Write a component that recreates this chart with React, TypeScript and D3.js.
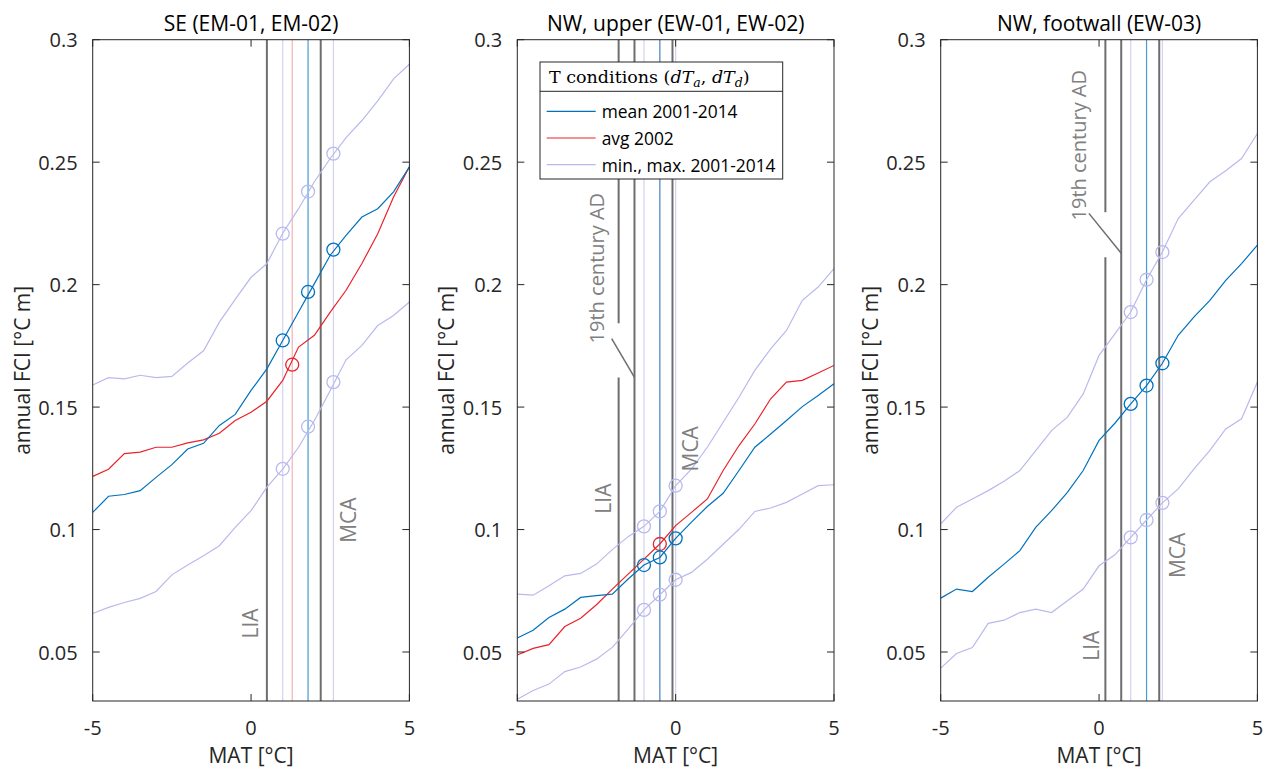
import React from 'react';
import * as d3 from 'd3';

// ---------- data ----------
const MAT = [-5, -4.5, -4, -3.5, -3, -2.5, -2, -1.5, -1, -0.5, 0, 0.5, 1, 1.5, 2, 2.5, 3, 3.5, 4, 4.5, 5];
const X_TICKS = [-5, 0, 5];
const Y_TICKS = [0.05, 0.1, 0.15, 0.2, 0.25, 0.3];
const Y_DOMAIN = [0.03, 0.3];
const X_DOMAIN = [-5, 5];

const TITLES = ['SE (EM-01, EM-02)', 'NW, upper (EW-01, EW-02)', 'NW, footwall (EW-03)'];

// SE
const SE_MEAN = [0.107, 0.1136, 0.1143, 0.1159, 0.1213, 0.1265, 0.1329, 0.1352, 0.1425, 0.147, 0.1568, 0.1656, 0.1772, 0.1888, 0.2004, 0.212, 0.2201, 0.2276, 0.231, 0.2379, 0.2481];
const SE_AVG2002 = [0.1217, 0.1246, 0.131, 0.1316, 0.1336, 0.1336, 0.1354, 0.1366, 0.1393, 0.1445, 0.1479, 0.1524, 0.1609, 0.1745, 0.1793, 0.1888, 0.1977, 0.2086, 0.2208, 0.2358, 0.2481];
const SE_MAX = [0.159, 0.162, 0.1615, 0.163, 0.162, 0.1625, 0.168, 0.173, 0.1847, 0.194, 0.203, 0.2086, 0.221, 0.231, 0.242, 0.2515, 0.26, 0.267, 0.275, 0.284, 0.29];
const SE_MIN = [0.0657, 0.0682, 0.0702, 0.0719, 0.0747, 0.0815, 0.0855, 0.0893, 0.0934, 0.1009, 0.1077, 0.1173, 0.1247, 0.1336, 0.1445, 0.1568, 0.1693, 0.1752, 0.1833, 0.1874, 0.1929];
const SE_MARK_X = [1.0, 1.8, 2.6];
const SE_MARK_MEAN = [0.1772, 0.197, 0.2143];
const SE_MARK_MAX = [0.2208, 0.238, 0.2535];
const SE_MARK_MIN = [0.1248, 0.142, 0.1602];
const SE_MARK_AVG_X = [1.3];
const SE_MARK_AVG = [0.1673];

// NW upper
const NWU_MEAN = [0.0557, 0.0589, 0.0641, 0.0675, 0.0723, 0.073, 0.0736, 0.0798, 0.0855, 0.0886, 0.0964, 0.103, 0.1094, 0.1148, 0.1241, 0.1336, 0.139, 0.1445, 0.1502, 0.1547, 0.1595];
const NWU_AVG2002 = [0.0488, 0.0515, 0.053, 0.0604, 0.0638, 0.0693, 0.0757, 0.0818, 0.0879, 0.0941, 0.1016, 0.107, 0.1125, 0.1241, 0.1343, 0.1431, 0.1534, 0.1602, 0.1609, 0.1639, 0.167];
const NWU_MAX = [0.0736, 0.0732, 0.0771, 0.0811, 0.0821, 0.0859, 0.0918, 0.0971, 0.1013, 0.1074, 0.1179, 0.1247, 0.1336, 0.1438, 0.154, 0.165, 0.1738, 0.1813, 0.1936, 0.199, 0.2065];
const NWU_MIN = [0.0307, 0.0343, 0.0369, 0.042, 0.0439, 0.0471, 0.0519, 0.0593, 0.0672, 0.0734, 0.0795, 0.0825, 0.0879, 0.094, 0.1001, 0.1074, 0.1088, 0.1111, 0.1145, 0.1179, 0.1183];
const NWU_MARK_X = [-1.0, -0.5, 0.0];
const NWU_MARK_MEAN = [0.0855, 0.0886, 0.0964];
const NWU_MARK_MAX = [0.1013, 0.1074, 0.1179];
const NWU_MARK_MIN = [0.0672, 0.0734, 0.0795];
const NWU_MARK_AVG_X = [-0.5];
const NWU_MARK_AVG = [0.0941];

// NW footwall
const NWF_MEAN = [0.072, 0.0757, 0.0747, 0.0805, 0.0859, 0.0914, 0.1009, 0.1077, 0.1152, 0.1241, 0.1364, 0.1434, 0.1513, 0.1588, 0.1679, 0.1793, 0.1868, 0.1936, 0.2017, 0.2086, 0.2161];
const NWF_MAX = [0.1023, 0.1091, 0.1125, 0.1159, 0.1197, 0.1241, 0.1322, 0.1404, 0.1459, 0.1554, 0.1711, 0.1799, 0.1888, 0.202, 0.2133, 0.227, 0.2345, 0.242, 0.2465, 0.2515, 0.2617];
const NWF_MIN = [0.0434, 0.0494, 0.0518, 0.0617, 0.063, 0.0661, 0.0675, 0.0661, 0.0709, 0.0757, 0.0852, 0.0897, 0.0968, 0.1039, 0.1109, 0.1166, 0.1248, 0.1323, 0.1411, 0.1452, 0.1602];
const NWF_MARK_X = [1.0, 1.5, 2.0];
const NWF_MARK_MEAN = [0.1513, 0.1588, 0.1679];
const NWF_MARK_MAX = [0.1888, 0.202, 0.2133];
const NWF_MARK_MIN = [0.0968, 0.1039, 0.1109];

// vertical reference lines (MAT)
const SE_VLINES_DARK = [0.5, 2.2];
const SE_VLINES_MINMAX = [1.0, 2.6];
const SE_VLINES_AVG = [1.3];
const SE_VLINES_MEAN = [1.8];
const NWU_VLINES_DARK = [-1.3, -0.1];
const NWU_LIA = -1.8;
const NWU_LIA_GAP = [0.1621, 0.1842];
const NWU_VLINES_MINMAX = [-1.0, 0.0];
const NWU_VLINES_AVG = [-0.5];
const NWU_VLINES_MEAN = [-0.5];
const NWF_VLINES_DARK = [0.7, 1.9];
const NWF_LIA = 0.2;
const NWF_LIA_GAP = [0.2112, 0.2296];
const NWF_VLINES_MINMAX = [1.0, 2.0];
const NWF_VLINES_MEAN = [1.5];

const LEGEND_LABELS = ['mean 2001-2014', 'avg 2002', 'min., max. 2001-2014'];

// ---------- style ----------
const C_MEAN = '#0072BD';
const C_AVG = '#E8232A';
const C_MM = '#B9B9EE';
const CV_MEAN = '#4A9AD4';
const CV_AVG = '#F6B2B2';
const CV_MM = '#D2D2F4';
const C_DARK = '#6E6E6E';
const C_AXIS = '#262626';
const C_LABEL = '#808080';
const FONT = "'Open Sans', 'Noto Sans', sans-serif";

const W = 1263;
const H = 769;
const PANEL_LEFT = [92.7, 517.3, 940.7];
const PW = 316.7;
const TOP = 39.7;
const BOTTOM = 701;

type Series = { y: number[]; color: string };
type Marks = { x: number[]; y: number[]; color: string };
type Ann = { text: string; x: number; y: number };
type PanelSpec = {
  title: string;
  series: Series[];
  marks: Marks[];
  vMinMax: number[];
  vAvg: number[];
  vMean: number[];
  vDark: number[];
  lia?: { x: number; gap: number[]; leader: { x: number[]; y: number[] }; text: Ann };
  labels: Ann[];
  legend?: boolean;
};

const PANELS: PanelSpec[] = [
  {
    title: TITLES[0],
    series: [
      { y: SE_MAX, color: C_MM },
      { y: SE_MIN, color: C_MM },
      { y: SE_AVG2002, color: C_AVG },
      { y: SE_MEAN, color: C_MEAN },
    ],
    marks: [
      { x: SE_MARK_X, y: SE_MARK_MAX, color: C_MM },
      { x: SE_MARK_X, y: SE_MARK_MIN, color: C_MM },
      { x: SE_MARK_AVG_X, y: SE_MARK_AVG, color: C_AVG },
      { x: SE_MARK_X, y: SE_MARK_MEAN, color: C_MEAN },
    ],
    vMinMax: SE_VLINES_MINMAX,
    vAvg: SE_VLINES_AVG,
    vMean: SE_VLINES_MEAN,
    vDark: SE_VLINES_DARK,
    labels: [
      { text: 'LIA', x: -0.03, y: 0.0555 },
      { text: 'MCA', x: 3.07, y: 0.0946 },
    ],
  },
  {
    title: TITLES[1],
    series: [
      { y: NWU_MAX, color: C_MM },
      { y: NWU_MIN, color: C_MM },
      { y: NWU_AVG2002, color: C_AVG },
      { y: NWU_MEAN, color: C_MEAN },
    ],
    marks: [
      { x: NWU_MARK_X, y: NWU_MARK_MAX, color: C_MM },
      { x: NWU_MARK_X, y: NWU_MARK_MIN, color: C_MM },
      { x: NWU_MARK_AVG_X, y: NWU_MARK_AVG, color: C_AVG },
      { x: NWU_MARK_X, y: NWU_MARK_MEAN, color: C_MEAN },
    ],
    vMinMax: NWU_VLINES_MINMAX,
    vAvg: NWU_VLINES_AVG,
    vMean: NWU_VLINES_MEAN,
    vDark: NWU_VLINES_DARK,
    lia: {
      x: NWU_LIA,
      gap: NWU_LIA_GAP,
      leader: { x: [-2.02, -1.3], y: [0.178, 0.1621] },
      text: { text: '19th century AD', x: -2.49, y: 0.176 },
    },
    labels: [
      { text: 'LIA', x: -2.28, y: 0.1065 },
      { text: 'MCA', x: 0.45, y: 0.1237 },
    ],
    legend: true,
  },
  {
    title: TITLES[2],
    series: [
      { y: NWF_MAX, color: C_MM },
      { y: NWF_MIN, color: C_MM },
      { y: NWF_MEAN, color: C_MEAN },
    ],
    marks: [
      { x: NWF_MARK_X, y: NWF_MARK_MAX, color: C_MM },
      { x: NWF_MARK_X, y: NWF_MARK_MIN, color: C_MM },
      { x: NWF_MARK_X, y: NWF_MARK_MEAN, color: C_MEAN },
    ],
    vMinMax: NWF_VLINES_MINMAX,
    vAvg: [],
    vMean: NWF_VLINES_MEAN,
    vDark: NWF_VLINES_DARK,
    lia: {
      x: NWF_LIA,
      gap: NWF_LIA_GAP,
      leader: { x: [-0.32, 0.7], y: [0.2291, 0.2128] },
      text: { text: '19th century AD', x: -0.66, y: 0.2262 },
    },
    labels: [
      { text: 'LIA', x: -0.245, y: 0.0464 },
      { text: 'MCA', x: 2.47, y: 0.0802 },
    ],
  },
];

function RotLabel({ a, xs, ys, size }: { a: Ann; xs: d3.ScaleLinear<number, number>; ys: d3.ScaleLinear<number, number>; size: number }) {
  const px = xs(a.x);
  const py = ys(a.y);
  return (
    <text
      transform={`translate(${px},${py}) rotate(-90)`}
      textAnchor="start"
      dominantBaseline="central"
      fontFamily={FONT}
      fontSize={size}
      fill={C_LABEL}
    >
      {a.text}
    </text>
  );
}

function Panel({ spec, idx }: { spec: PanelSpec; idx: number }) {
  const left = PANEL_LEFT[idx];
  const xs = d3.scaleLinear().domain(X_DOMAIN).range([left, left + PW]);
  const ys = d3.scaleLinear().domain(Y_DOMAIN).range([BOTTOM, TOP]);
  const line = d3
    .line<number>()
    .x((_, i) => xs(MAT[i]))
    .y((d) => ys(d));
  const clipId = `clip${idx}`;
  const vline = (v: number, color: string, w: number, key: string) => (
    <line key={key} x1={xs(v)} x2={xs(v)} y1={TOP} y2={BOTTOM} stroke={color} strokeWidth={w} />
  );
  const tickLen = 7;
  return (
    <g>
      <defs>
        <clipPath id={clipId}>
          <rect x={left} y={TOP} width={PW} height={BOTTOM - TOP} />
        </clipPath>
      </defs>
      <rect x={left} y={TOP} width={PW} height={BOTTOM - TOP} fill="#fff" />
      <g clipPath={`url(#${clipId})`}>
        {spec.vMinMax.map((v, i) => vline(v, CV_MM, 1.2, `mm${i}`))}
        {spec.vAvg.map((v, i) => vline(v, CV_AVG, 1.2, `av${i}`))}
        {spec.vMean.map((v, i) => vline(v, CV_MEAN, 1.2, `me${i}`))}
        {spec.vDark.map((v, i) => vline(v, C_DARK, 2, `dk${i}`))}
        {spec.lia && (
          <g>
            <line x1={xs(spec.lia.x)} x2={xs(spec.lia.x)} y1={TOP} y2={ys(spec.lia.gap[1])} stroke={C_DARK} strokeWidth={2} />
            <line x1={xs(spec.lia.x)} x2={xs(spec.lia.x)} y1={ys(spec.lia.gap[0])} y2={BOTTOM} stroke={C_DARK} strokeWidth={2} />
            <line
              x1={xs(spec.lia.leader.x[0])}
              y1={ys(spec.lia.leader.y[0])}
              x2={xs(spec.lia.leader.x[1])}
              y2={ys(spec.lia.leader.y[1])}
              stroke={C_DARK}
              strokeWidth={1.5}
            />
          </g>
        )}
        {spec.series.map((s, i) => (
          <path key={`s${i}`} d={line(s.y) || ''} fill="none" stroke={s.color} strokeWidth={1.2} />
        ))}
        {spec.marks.map((m, i) =>
          m.x.map((xv, j) => (
            <circle key={`m${i}-${j}`} cx={xs(xv)} cy={ys(m.y[j])} r={6.5} fill="none" stroke={m.color} strokeWidth={1.3} />
          ))
        )}
      </g>
      {spec.lia && <RotLabel a={spec.lia.text} xs={xs} ys={ys} size={20} />}
      {spec.labels.map((a, i) => (
        <RotLabel key={`l${i}`} a={a} xs={xs} ys={ys} size={21} />
      ))}
      {/* axes box */}
      <rect x={left} y={TOP} width={PW} height={BOTTOM - TOP} fill="none" stroke={C_AXIS} strokeWidth={1} />
      {X_TICKS.map((t) => (
        <g key={`xt${t}`}>
          <line x1={xs(t)} x2={xs(t)} y1={BOTTOM} y2={BOTTOM - tickLen} stroke={C_AXIS} />
          <line x1={xs(t)} x2={xs(t)} y1={TOP} y2={TOP + tickLen} stroke={C_AXIS} />
          <text x={xs(t)} y={727} textAnchor="middle" dominantBaseline="central" fontFamily={FONT} fontSize={20} fill={C_AXIS}>
            {String(t)}
          </text>
        </g>
      ))}
      {Y_TICKS.map((t) => (
        <g key={`yt${t}`}>
          <line x1={left} x2={left + tickLen} y1={ys(t)} y2={ys(t)} stroke={C_AXIS} />
          <line x1={left + PW} x2={left + PW - tickLen} y1={ys(t)} y2={ys(t)} stroke={C_AXIS} />
          <text x={left - 15} y={ys(t)} textAnchor="end" dominantBaseline="central" fontFamily={FONT} fontSize={20} fill={C_AXIS}>
            {String(t)}
          </text>
        </g>
      ))}
      <text x={left + PW / 2} y={23} textAnchor="middle" dominantBaseline="central" fontFamily={FONT} fontSize={21} fill="#000">
        {spec.title}
      </text>
      <text x={left + PW / 2} y={755} textAnchor="middle" dominantBaseline="central" fontFamily={FONT} fontSize={21} fill={C_AXIS}>
        MAT [°C]
      </text>
      <text
        transform={`translate(${left - 71},${(TOP + BOTTOM) / 2}) rotate(-90)`}
        textAnchor="middle"
        dominantBaseline="central"
        fontFamily={FONT}
        fontSize={21}
        fill={C_AXIS}
      >
        annual FCI [°C m]
      </text>
      {spec.legend && <Legend />}
    </g>
  );
}

function Legend() {
  const x0 = 540;
  const y0 = 62;
  const w = 242.7;
  const h = 117;
  const colors = [C_MEAN, C_AVG, C_MM];
  const rowY = [111.3, 138, 164.7];
  const serif = "'DejaVu Serif', 'Liberation Serif', serif";
  return (
    <g>
      <rect x={x0} y={y0} width={w} height={h} fill="#fff" stroke={C_AXIS} strokeWidth={1} />
      <line x1={x0} x2={x0 + w} y1={91.3} y2={91.3} stroke={C_AXIS} strokeWidth={1} />
      <text x={549} y={83} fontFamily={serif} fontSize={17.5} fill="#000">
        <tspan>T conditions (</tspan>
        <tspan fontStyle="italic">dT</tspan>
        <tspan fontStyle="italic" fontSize={12.5} dy={4}>a</tspan>
        <tspan dy={-4}>, </tspan>
        <tspan fontStyle="italic">dT</tspan>
        <tspan fontStyle="italic" fontSize={12.5} dy={4}>d</tspan>
        <tspan dy={-4}>)</tspan>
      </text>
      {LEGEND_LABELS.map((lab, i) => (
        <g key={lab}>
          <line x1={546.7} x2={595.7} y1={rowY[i]} y2={rowY[i]} stroke={colors[i]} strokeWidth={1.2} />
          <text x={601.7} y={rowY[i]} dominantBaseline="central" fontFamily={FONT} fontSize={17.4} fill="#000">
            {lab}
          </text>
        </g>
      ))}
    </g>
  );
}

export default function App() {
  return (
    <svg
      width={W}
      height={H}
      viewBox={`0 0 ${W} ${H}`}
      style={{ position: 'absolute', left: 0, top: 0, background: '#fff' }}
    >
      <rect x={0} y={0} width={W} height={H} fill="#fff" />
      {PANELS.map((p, i) => (
        <Panel key={i} spec={p} idx={i} />
      ))}
    </svg>
  );
}
